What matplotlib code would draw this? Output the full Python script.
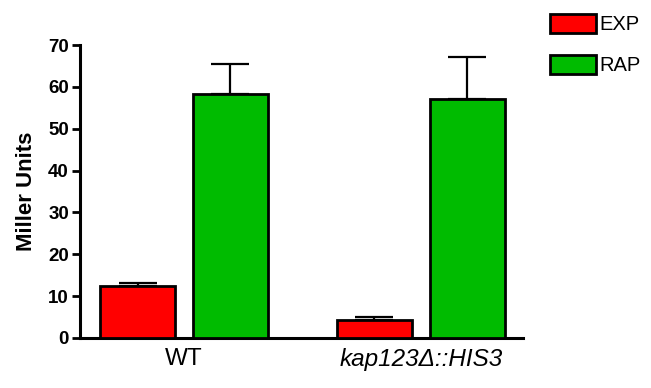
import numpy as np
import matplotlib.pyplot as plt
from matplotlib.patches import Patch

plt.rcParams['font.family'] = ['Liberation Sans', 'DejaVu Sans']

# datos
strains = ["WT", "kap123Δ::HIS3"]
exp_vals = [12.3, 4.4]
exp_err = [0.8, 0.5]
rap_vals = [58.3, 57.0]
rap_err = [7.2, 10.2]
series = ["EXP", "RAP"]

fig = plt.figure(figsize=(6.51, 3.88), dpi=100)
ax = fig.add_axes([0.123, 0.129, 0.680, 0.755])

x = np.arange(len(strains))
w = 0.316
off = 0.196

ax.bar(x - off, exp_vals, w, color="#ff0000", edgecolor="black", linewidth=2, zorder=3)
ax.bar(x + off, rap_vals, w, color="#00bb00", edgecolor="black", linewidth=2, zorder=3)
ax.errorbar(x - off, exp_vals, yerr=[np.zeros(2), exp_err], fmt="none", ecolor="black",
            elinewidth=1.6, capsize=14, capthick=1.6, zorder=2)
ax.errorbar(x + off, rap_vals, yerr=[np.zeros(2), rap_err], fmt="none", ecolor="black",
            elinewidth=1.6, capsize=14, capthick=1.6, zorder=2)

ax.set_xlim(-0.439, 1.430)
ax.set_ylim(0, 70)
ax.set_yticks(range(0, 71, 10))
ax.set_xticks(x)
ax.set_xticklabels(strains, fontsize=17.5)
ax.get_xticklabels()[1].set_style("italic")
ax.tick_params(axis="x", length=0, pad=7)
ax.tick_params(axis="y", length=6, width=2, labelsize=13.5, pad=2)
for lbl in ax.get_yticklabels():
    lbl.set_fontweight("bold")
ax.set_ylabel("Miller Units", fontsize=16, fontweight="bold", labelpad=8)

for s in ["top", "right"]:
    ax.spines[s].set_visible(False)
for s in ["left", "bottom"]:
    ax.spines[s].set_linewidth(2.2)

handles = [Patch(facecolor="#ff0000", edgecolor="black", linewidth=2),
           Patch(facecolor="#00bb00", edgecolor="black", linewidth=2)]
fig.legend(handles, series, loc="upper left", bbox_to_anchor=(0.832, 0.985),
           frameon=False, fontsize=14.5, handlelength=2.3, handleheight=1.05,
           handletextpad=0.15, labelspacing=1.05, borderaxespad=0)

fig.savefig("out.png", dpi=100)
